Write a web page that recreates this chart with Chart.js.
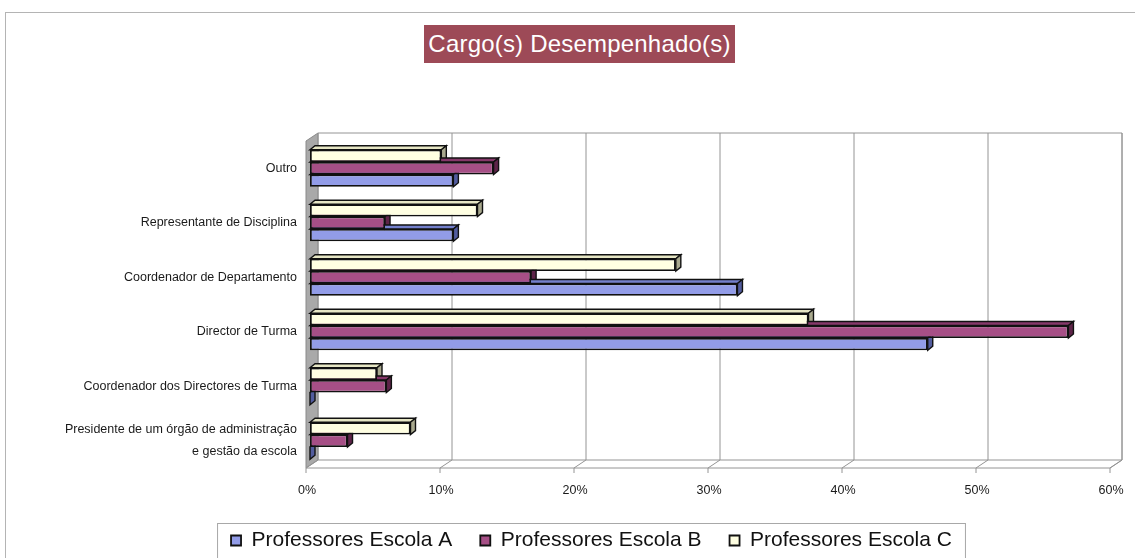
<!DOCTYPE html>
<html>
<head>
<meta charset="utf-8">
<script src="https://cdn.jsdelivr.net/npm/chart.js@4.4.1/dist/chart.umd.min.js"></script>
<style>
  html, body { margin: 0; padding: 0; background: #fff; overflow: hidden; }
  #moldura { position: absolute; left: 5px; top: 12px; width: 1140px; height: 560px;
             border-left: 1px solid #b4b4b4; border-top: 1px solid #b4b4b4; }
  #wrap { position: absolute; left: 0; top: 0; width: 1135px; height: 558px; }
  #titulo { position: absolute; left: 424px; top: 25px; width: 311px; height: 38px;
            display: flex; align-items: center; justify-content: center;
            background: #9d4a57; color: #fff; letter-spacing: 0.2px;
            font: 24px "Liberation Sans", Arial, sans-serif; }
</style>
</head>
<body>
<div id="moldura"></div>
<div id="wrap"><canvas id="cCargo"></canvas></div>
<div id="titulo">Cargo(s) Desempenhado(s)</div>

<script>
/* ── DADOS ── */
const cargos = [
  "Outro",
  "Representante de Disciplina",
  "Coordenador de Departamento",
  "Director de Turma",
  "Coordenador dos Directores de Turma",
  ["Presidente de um órgão de administração", "e gestão da escola"]
];
const escolaA = [10.7, 10.7, 31.9, 46.1, 0, 0];
const escolaB = [13.7, 5.6, 16.5, 56.6, 5.7, 2.8];
const escolaC = [9.8, 12.5, 27.3, 37.2, 5.0, 7.5];
const ticksX  = [0, 10, 20, 30, 40, 50, 60];

Chart.defaults.font.family = '"Liberation Sans", Arial, sans-serif';
Chart.defaults.color = "#222";

/* ── CAIXA 3D (paredes, grade e profundidade das barras) ── */
const caixa3d = {
  id: "caixa3d",
  beforeDatasetsDraw(chart) {
    const ctx = chart.ctx, a = chart.chartArea, xs = chart.scales.x;
    const fx = a.left - 4, fb = a.bottom;
    const bx = fx + 12, bb = fb - 8, bt = a.top - 8;
    const fxMax = xs.getPixelForValue(60) - 4;

    ctx.save();
    ctx.lineWidth = 1;

    // parede esquerda
    ctx.fillStyle = "#a9a9a9";
    ctx.strokeStyle = "#8a8a8a";
    ctx.beginPath();
    ctx.moveTo(fx, a.top); ctx.lineTo(bx, bt); ctx.lineTo(bx, bb); ctx.lineTo(fx, fb);
    ctx.closePath(); ctx.fill(); ctx.stroke();

    // fundo e chão
    ctx.strokeStyle = "#949494";
    ctx.beginPath();
    ctx.moveTo(bx, bt); ctx.lineTo(fxMax + 12, bt); ctx.lineTo(fxMax + 12, bb);
    ctx.moveTo(bx, bb); ctx.lineTo(fxMax + 12, bb); ctx.lineTo(fxMax, fb); ctx.lineTo(fx, fb);
    ctx.stroke();

    // grade
    ticksX.forEach(v => {
      const p = xs.getPixelForValue(v) - 4;
      ctx.beginPath();
      ctx.moveTo(p + 12, bt); ctx.lineTo(p + 12, bb); ctx.lineTo(p, fb); ctx.lineTo(p, fb + 5);
      ctx.stroke();
    });

    // profundidade das barras
    const dx = 5, dy = 4;
    ctx.strokeStyle = "#111";
    ctx.lineWidth = 1.4;
    chart.data.datasets.forEach((ds, i) => {
      chart.getDatasetMeta(i).data.forEach(bar => {
        const { x, y, base, height } = bar.getProps(["x", "y", "base", "height"], true);
        const t = y - height / 2, b = y + height / 2;
        ctx.fillStyle = ds.corTopo;
        ctx.beginPath();
        ctx.moveTo(base, t); ctx.lineTo(base + dx, t - dy); ctx.lineTo(x + dx, t - dy); ctx.lineTo(x, t);
        ctx.closePath(); ctx.fill(); ctx.stroke();
        ctx.fillStyle = ds.corLado;
        ctx.beginPath();
        ctx.moveTo(x, t); ctx.lineTo(x + dx, t - dy); ctx.lineTo(x + dx, b - dy); ctx.lineTo(x, b);
        ctx.closePath(); ctx.fill(); ctx.stroke();
      });
    });
    ctx.restore();
  },
  afterDraw(chart) {
    // moldura da legenda
    const lg = chart.legend;
    if (!lg || !lg.legendHitBoxes.length) return;
    const hb = lg.legendHitBoxes;
    const esq = Math.min(...hb.map(h => h.left));
    const dir = Math.max(...hb.map(h => h.left + h.width));
    const ctx = chart.ctx;
    ctx.save();
    ctx.strokeStyle = "#a8a8a8";
    ctx.lineWidth = 1;
    ctx.strokeRect(esq - 14 + 0.5, hb[0].top - 7 + 0.5, dir - esq + 27, 60);
    ctx.restore();
  }
};

/* ── GRÁFICO ── */
new Chart(document.getElementById("cCargo"), {
  type: "bar",
  data: {
    labels: cargos,
    datasets: [
      { label: "Professores Escola C", data: escolaC, backgroundColor: "#ffffe2",
        corTopo: "#e6e6c4", corLado: "#a9a98e" },
      { label: "Professores Escola B", data: escolaB, backgroundColor: "#a64f86",
        corTopo: "#86386a", corLado: "#5e2449" },
      { label: "Professores Escola A", data: escolaA, backgroundColor: "#929ce8",
        corTopo: "#7480cc", corLado: "#525c9e" }
    ].map(ds => ({ ...ds, borderColor: "#111", borderWidth: 1.8, borderSkipped: false,
                   categoryPercentage: 0.68, barPercentage: 1 }))
  },
  options: {
    indexAxis: "y",
    responsive: true,
    maintainAspectRatio: false,
    animation: false,
    layout: { padding: { left: 48, right: 0, top: 141, bottom: -3 } },
    plugins: {
      legend: {
        position: "bottom",
        reverse: true,
        labels: { boxWidth: 10, boxHeight: 10, padding: 28, color: "#111", font: { size: 21 } }
      },
      tooltip: { enabled: false },
      title: { display: false }
    },
    scales: {
      x: {
        min: 0, max: 60,
        grid: { display: false, drawTicks: false },
        border: { display: false },
        afterBuildTicks: s => { s.ticks = ticksX.map(v => ({ value: v })); },
        afterFit: s => { s.height = 34; s.paddingRight = 21; s.paddingLeft = 0; },
        ticks: { padding: 15, labelOffset: -3, color: "#1a1a1a", font: { size: 12.5 },
                 callback: v => v + "%" }
      },
      y: {
        grid: { display: false, drawTicks: false },
        border: { display: false },
        afterFit: s => { s.width = 262; },
        ticks: { padding: 13, color: "#1a1a1a", font: { size: 12.5, lineHeight: 1.75 } }
      }
    }
  },
  plugins: [caixa3d]
});
</script>
</body>
</html>
